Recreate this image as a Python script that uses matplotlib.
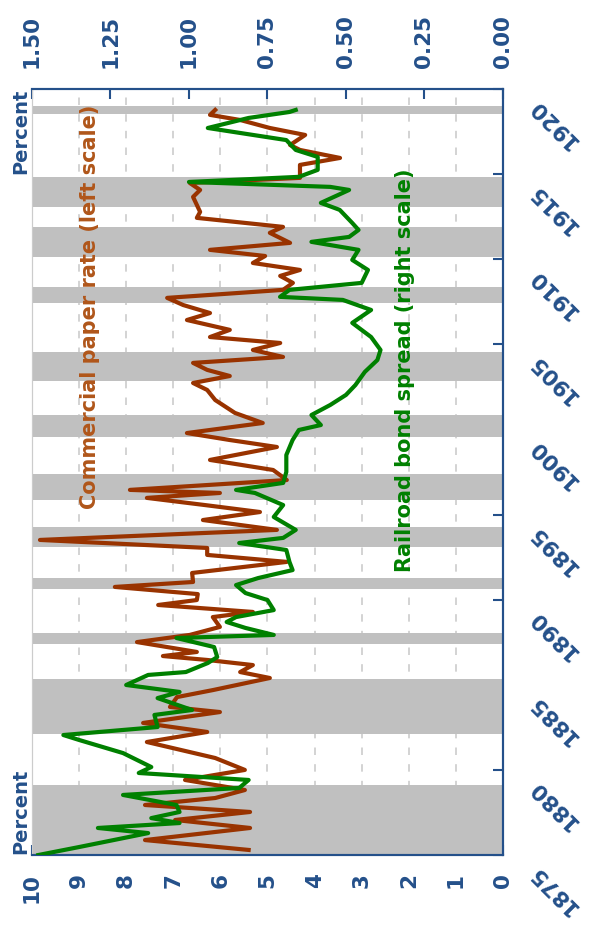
import matplotlib
matplotlib.use("Agg")
import matplotlib.pyplot as plt
from matplotlib.transforms import ScaledTranslation

# Commercial paper rate (percent, left scale)
cp_years = [1875.3, 1875.88, 1876.59, 1877.06, 1877.53, 1877.94, 1878.35, 1878.82, 1879.41, 1880.0,
            1880.70, 1881.64, 1882.23, 1882.76, 1883.40, 1883.70, 1884.28, 1884.69, 1885.40, 1885.75,
            1886.16, 1886.46, 1886.69, 1886.93, 1887.51, 1887.93, 1888.40, 1888.98, 1889.28, 1889.69,
            1889.98, 1890.33, 1890.75, 1891.04, 1891.57, 1892.22, 1892.63, 1893.04, 1893.51, 1894.10,
            1894.68, 1895.15, 1895.56, 1895.98, 1896.27, 1896.45, 1897.03, 1897.62, 1898.21, 1898.97,
            1899.38, 1899.79, 1900.38, 1900.97, 1901.73, 1902.32, 1902.73, 1903.14, 1903.50, 1903.91,
            1904.26, 1904.67, 1905.08, 1905.43, 1905.85, 1906.43, 1906.84, 1907.31, 1907.73, 1908.20,
            1908.61, 1909.02, 1909.37, 1909.78, 1910.19, 1910.55, 1910.96, 1911.55, 1911.90, 1912.43,
            1912.78, 1913.19, 1913.66, 1914.07, 1914.48, 1914.78, 1915.25, 1915.54, 1915.95, 1916.42,
            1916.71, 1917.30, 1917.71, 1918.18, 1918.48, 1918.77]
cp_rate = [5.4, 7.60, 5.37, 6.96, 5.37, 7.60, 6.11, 5.48, 6.75, 5.48,
           6.11, 7.56, 6.28, 7.64, 6.01, 7.07, 6.92, 6.16, 4.95, 5.58,
           5.31, 6.28, 7.22, 6.50, 7.77, 6.65, 6.01, 6.16, 5.31, 7.32,
           6.50, 6.48, 8.24, 6.58, 6.60, 4.59, 6.28, 6.28, 9.83, 4.80,
           6.37, 5.16, 6.33, 7.56, 6.01, 7.92, 4.59, 4.88, 6.22, 4.80,
           5.80, 6.71, 5.10, 5.69, 6.11, 6.28, 6.58, 5.80, 6.28, 6.58,
           4.67, 5.31, 4.73, 6.22, 5.80, 6.71, 6.22, 6.79, 7.13, 4.67,
           4.46, 4.73, 4.31, 5.31, 5.05, 6.22, 4.52, 4.95, 4.67, 6.50,
           6.43, 6.50, 6.58, 6.43, 6.65, 4.31, 4.31, 4.31, 3.46, 4.31,
           4.52, 4.20, 4.95, 5.58, 6.22, 6.11]

# Railroad bond spread (percent, right scale)
rr_years = [1875.0, 1875.47, 1875.88, 1876.29, 1876.59, 1876.88, 1877.17, 1877.53, 1877.94, 1878.53,
            1878.94, 1879.41, 1879.82, 1880.17, 1880.99, 1881.76, 1882.05, 1882.52, 1883.23, 1883.52,
            1884.22, 1884.58, 1884.99, 1885.58, 1885.75, 1886.28, 1886.63, 1887.22, 1887.75, 1887.93,
            1888.34, 1888.69, 1888.98, 1889.39, 1889.98, 1890.39, 1890.86, 1891.27, 1891.74, 1892.22,
            1892.92, 1893.33, 1893.63, 1894.10, 1894.86, 1895.56, 1896.27, 1896.45, 1896.86, 1897.50,
            1898.50, 1899.38, 1899.97, 1900.26, 1900.85, 1901.44, 1902.03, 1902.61, 1903.38, 1904.08,
            1904.67, 1905.43, 1906.26, 1907.02, 1907.61, 1907.79, 1908.20, 1908.61, 1909.37, 1909.96,
            1910.55, 1911.02, 1911.31, 1911.72, 1912.13, 1912.90, 1913.31, 1914.07, 1914.25, 1914.54,
            1914.84, 1915.25, 1916.01, 1916.42, 1917.0, 1917.71, 1918.30, 1918.65, 1918.77]
rr_spread = [1.48, 1.35, 1.24, 1.13, 1.29, 1.03, 1.12, 1.03, 1.04, 1.21,
             0.84, 0.81, 1.16, 1.12, 1.21, 1.35, 1.40, 1.10, 1.11, 0.99,
             1.10, 1.03, 1.20, 1.13, 1.01, 0.94, 0.91, 0.92, 1.04, 0.73,
             0.82, 0.88, 0.85, 0.73, 0.75, 0.82, 0.85, 0.78, 0.67, 0.68,
             0.69, 0.84, 0.70, 0.66, 0.73, 0.70, 0.79, 0.85, 0.70, 0.69,
             0.69, 0.67, 0.65, 0.58, 0.61, 0.55, 0.50, 0.47, 0.44, 0.40,
             0.39, 0.42, 0.48, 0.42, 0.51, 0.71, 0.68, 0.45, 0.43, 0.48,
             0.46, 0.61, 0.49, 0.46, 0.48, 0.52, 0.58, 0.49, 0.55, 1.00,
             0.65, 0.59, 0.59, 0.66, 0.69, 0.94, 0.81, 0.68, 0.66]

# Recession periods
rec_start = [1875.0, 1882.11, 1887.40, 1890.63, 1893.10, 1895.86, 1899.56, 1902.85, 1907.43, 1910.13, 1913.07, 1918.53]
rec_end = [1879.11, 1885.34, 1888.04, 1891.28, 1894.27, 1897.39, 1900.85, 1904.55, 1908.37, 1911.90, 1914.84, 1919.00]

left_ticks = [0, 1, 2, 3, 4, 5, 6, 7, 8, 9, 10]
right_ticks = [0.0, 0.25, 0.5, 0.75, 1.0, 1.25, 1.5]
year_ticks = [1875, 1880, 1885, 1890, 1895, 1900, 1905, 1910, 1915, 1920]

blue = "#24508a"
brown = "#993300"
green = "#008000"

fig = plt.figure(figsize=(5.9, 9.3), dpi=100)
ax = fig.add_axes([0.0542, 0.0806, 0.7983, 0.8237])

# recession shading
for s, e in zip(rec_start, rec_end):
    ax.axhspan(s, e, color="#c0c0c0", lw=0, zorder=1)

ax.plot(cp_rate, cp_years, color=brown, lw=3.0, zorder=3, solid_joinstyle="round")

ax.set_xlim(10, 0)
ax.set_ylim(1875, 1920)
ax.set_xticks(left_ticks)
ax.set_xticklabels([str(t) for t in left_ticks], rotation=90, fontsize=15.5,
                   fontweight="bold", color=blue)
ax.tick_params(axis="x", direction="in", length=7, width=1.5, color=blue, pad=13,
               bottom=True, top=False)
ax.set_yticks(year_ticks)
ax.set_yticklabels([])
ax.yaxis.tick_right()
ax.tick_params(axis="y", direction="in", length=7, width=1.5, color=blue,
               left=False, right=True)
ax.xaxis.grid(True, color="#cccccc", lw=1.2, linestyle=(0, (4.5, 5.5)))
ax.set_axisbelow(True)

for side in ["bottom", "right", "top"]:
    ax.spines[side].set_color(blue)
    ax.spines[side].set_linewidth(1.5)
ax.spines["left"].set_color("#cccccc")

# right scale on a twin axis (top)
ax2 = ax.twiny()
ax2.plot(rr_spread, rr_years, color=green, lw=3.0, zorder=3, solid_joinstyle="round")
ax2.set_xlim(1.5, 0)
ax2.set_xticks(right_ticks)
ax2.set_xticklabels(["%.2f" % t for t in right_ticks], rotation=90, fontsize=15.5,
                    fontweight="bold", color=blue)
ax2.tick_params(axis="x", direction="in", length=7, width=1.5, color=blue, pad=15)
for side in ["bottom", "right", "top"]:
    ax2.spines[side].set_color(blue)
    ax2.spines[side].set_linewidth(1.5)
ax2.spines["left"].set_color("#cccccc")

# rotated year labels along the right side
off = ScaledTranslation(29 / 100, -13 / 100, fig.dpi_scale_trans)
for yr in year_ticks:
    ax.text(1.0, yr, str(yr), transform=ax.get_yaxis_transform() + off,
            rotation=135, rotation_mode="anchor", ha="right", va="center",
            fontsize=15.5, fontweight="bold", color=blue, clip_on=False)

ax.text(-0.004, 0.002, "Percent", transform=ax.transAxes, rotation=90, ha="right",
        va="bottom", fontsize=14, fontweight="bold", color=blue)
ax.text(-0.004, 1.0, "Percent", transform=ax.transAxes, rotation=90, ha="right",
        va="top", fontsize=14, fontweight="bold", color=blue)

ax.text(8.77, 1895.3, "Commercial paper rate (left scale)", rotation=90, ha="center",
        va="bottom", fontsize=15, fontweight="bold", color="#b0561a", zorder=4)
ax.text(2.08, 1891.6, "Railroad bond spread (right scale)", rotation=90, ha="center",
        va="bottom", fontsize=15, fontweight="bold", color=green, zorder=4)

fig.savefig("out.png", dpi=100)
